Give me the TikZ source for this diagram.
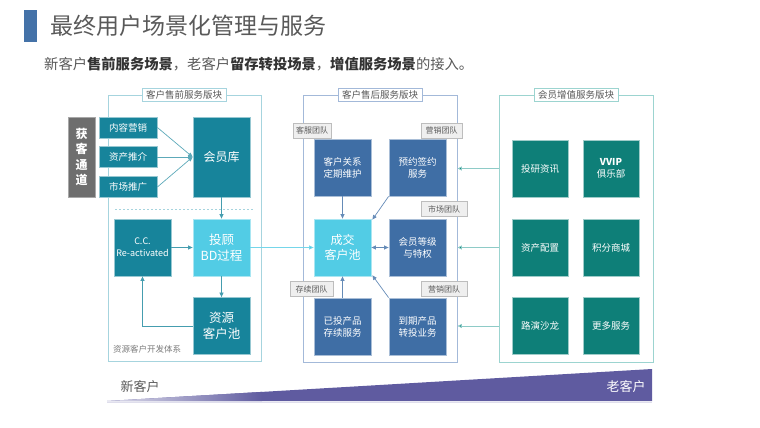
\documentclass[tikz,border=0pt]{standalone}
\usepackage{fontspec}
\setmainfont{Noto Sans CJK SC}
\usetikzlibrary{arrows.meta}
\definecolor{tealA}{HTML}{17849B}
\definecolor{cyanA}{HTML}{52CCE5}
\definecolor{blueA}{HTML}{3F6EA5}
\definecolor{greenA}{HTML}{0E7F78}
\definecolor{grayA}{HTML}{6E6E6E}
\definecolor{leftline}{HTML}{A6D4DE}
\definecolor{midline}{HTML}{A3B9D9}
\definecolor{rightline}{HTML}{9CD4D0}
\definecolor{purp}{HTML}{5F5BA0}
\definecolor{titlebar}{HTML}{4472A8}
\definecolor{txtgray}{HTML}{595959}
\definecolor{tagfill}{HTML}{EFEFEF}
\definecolor{tagline}{HTML}{BDBDBD}
\tikzset{
  boxbase/.style={inner sep=1pt, align=center, text=white, line width=0.8pt},
  tealbox/.style={boxbase, fill=tealA, draw=tealA!45!white},
  cyanbox/.style={boxbase, fill=cyanA, draw=cyanA!50!white},
  bluebox/.style={boxbase, fill=blueA, draw=blueA!45!white},
  greenbox/.style={boxbase, fill=greenA, draw=greenA!40!white},
  sq/.style={minimum width=57pt, minimum height=57pt},
  small/.style={font=\fontsize{9.5}{12}\selectfont},
  big/.style={font=\fontsize{12}{15}\selectfont},
  panel/.style={draw, line width=0.9pt, fill=none, inner sep=0pt},
  plabel/.style={fill=white, draw, line width=0.8pt, text=txtgray, font=\fontsize{9.5}{11}\selectfont, inner xsep=4pt, inner ysep=2pt},
  tag/.style={fill=tagfill, draw=tagline, line width=0.7pt, text=txtgray, font=\fontsize{8}{10}\selectfont, minimum height=15pt, inner xsep=3pt, inner ysep=1pt},
  tarr/.style={draw=#1, line width=0.7pt, -{Triangle[length=4.5pt,width=4pt]}},
}
\begin{document}
\begin{tikzpicture}[x=1pt,y=-1pt]
\useasboundingbox (0,0) rectangle (760,428);
% title
\fill[titlebar] (24,10) rectangle (37,42);
\node[anchor=west, text=txtgray, font=\fontsize{23}{27}\selectfont, inner sep=0pt] (title) at (50,26) {最终用户场景化管理与服务};
\node[anchor=west, text=txtgray, font=\fontsize{14.3}{17}\selectfont, inner sep=0pt] (sub) at (44,64)
 {新客户\textcolor{black!80}{\textbf{售前服务场景}}，老客户\textcolor{black!80}{\textbf{留存转投场景}}，\textcolor{black!80}{\textbf{增值服务场景}}的接入。};

% panels
\node[panel, draw=leftline, minimum width=153pt, minimum height=266pt] (lp) at (184.5,228) {};
\node[panel, draw=midline, minimum width=154pt, minimum height=267pt] (mp) at (380,228.5) {};
\node[panel, draw=rightline, minimum width=154pt, minimum height=267pt] (rp) at (576,228.5) {};
\node[plabel, draw=leftline] (lpl) at (184,95) {客户售前服务版块};
\node[plabel, draw=midline] (mpl) at (380,95) {客户售后服务版块};
\node[plabel, draw=rightline] (rpl) at (576,95) {会员增值服务版块};

% left panel
\node[boxbase, fill=grayA, draw=grayA!60!white, minimum width=27pt, minimum height=80pt, font=\fontsize{12}{15.5}\selectfont\bfseries] (hk) at (81.5,157) {获\\客\\通\\道};
\node[tealbox, small, minimum width=58pt, minimum height=21pt] (nr) at (128,127.5) {内容营销};
\node[tealbox, small, minimum width=58pt, minimum height=21pt] (zc) at (128,157) {资产推介};
\node[tealbox, small, minimum width=58pt, minimum height=21pt] (sc) at (128,187) {市场推广};
\node[tealbox, big, minimum width=57pt, minimum height=80pt] (hy) at (221.5,157) {会员库};
\draw[leftline, dashed, dash pattern=on 2pt off 2pt, line width=0.6pt] (115,209) -- (253,209);
\node[tealbox, sq, font=\fontsize{9}{12}\selectfont] (cc) at (142.5,247.5) {C.C.\\Re-activated};
\node[cyanbox, sq, font=\fontsize{12.5}{15.5}\selectfont] (tg) at (221.5,247.5) {投顾\\BD过程};
\node[tealbox, sq, font=\fontsize{12.5}{15.5}\selectfont] (zy) at (221.5,326) {资源\\客户池};
\node[anchor=west, text=txtgray!80, font=\fontsize{8.5}{10}\selectfont, inner sep=0pt] (zykf) at (113,349) {资源客户开发体系};

\draw[tarr=tealA!70!white] (nr.east) -- (hy.west);
\draw[tarr=tealA!70!white] (zc.east) -- (hy.west);
\draw[tarr=tealA!70!white] (sc.east) -- (hy.west);
\draw[tarr=tealA!80!white] (hy.south) -- (tg.north);
\draw[tarr=tealA!80!white] (cc.east) -- (tg.west);
\draw[tarr=tealA!80!white] (tg.south) -- (zy.north);
\draw[tarr=tealA!80!white] (zy.west) -| (cc.south);

% middle panel
\node[bluebox, sq, small] (kh) at (342.5,167.5) {客户关系\\定期维护};
\node[bluebox, sq, small] (yy) at (417.5,167.5) {预约签约\\服务};
\node[cyanbox, sq, font=\fontsize{12}{15}\selectfont] (cj) at (342.5,247.5) {成交\\客户池};
\node[bluebox, sq, small] (hd) at (417.5,247.5) {会员等级\\与特权};
\node[bluebox, sq, small] (yt) at (342.5,326.5) {已投产品\\存续服务};
\node[bluebox, sq, small] (dq) at (417.5,326.5) {到期产品\\转投业务};

\node[tag, minimum width=38pt] (kf) at (312,130.5) {客服团队};
\node[tag, minimum width=41pt] (yx1) at (441.5,130.5) {营销团队};
\node[tag, minimum width=46pt] (scd) at (444,209) {市场团队};
\node[tag, minimum width=43pt] (cx) at (311.5,289) {存续团队};
\node[tag, minimum width=46pt] (yx2) at (444,289) {营销团队};

\draw[tarr=blueA!80!white] (kh.south) -- (cj.north);
\draw[tarr=blueA!80!white] (yy.south west) -- ([xshift=1pt,yshift=-1pt]cj.north east);
\draw[tarr=blueA!80!white] (yt.north) -- (cj.south);
\draw[tarr=blueA!80!white] (dq.north west) -- ([xshift=1pt,yshift=1pt]cj.south east);
\draw[draw=blueA!80!white, line width=0.7pt, {Triangle[length=4.5pt,width=4pt]}-{Triangle[length=4.5pt,width=4pt]}] (cj.east) -- (hd.west);

\draw[draw=cyanA!80!white, line width=0.7pt, -{Triangle[length=4.5pt,width=4pt,fill=cyanA]}] (tg.east) -- (cj.west);

% right panel
\node[greenbox, minimum width=56pt, minimum height=57pt, small] (yz) at (540,168.5) {投研资讯};
\node[greenbox, minimum width=56pt, minimum height=57pt, small] (vv) at (611,168.5) {\textbf{VVIP}\\俱乐部};
\node[greenbox, minimum width=56pt, minimum height=57pt, small] (zp) at (540,247.5) {资产配置};
\node[greenbox, minimum width=56pt, minimum height=57pt, small] (jf) at (611,247.5) {积分商城};
\node[greenbox, minimum width=56pt, minimum height=57pt, small] (ly) at (540,326) {路演沙龙};
\node[greenbox, minimum width=56pt, minimum height=57pt, small] (gd) at (611,326) {更多服务};

\draw[draw=rightline!90!greenA, line width=0.8pt, -{Triangle[length=4.5pt,width=4pt,fill=greenA]}] (rp.west |- yz) -- (mp.east |- yz);
\draw[draw=rightline!90!greenA, line width=0.8pt, -{Triangle[length=4.5pt,width=4pt,fill=greenA]}] (rp.west |- zp) -- (mp.east |- zp);
\draw[draw=rightline!90!greenA, line width=0.8pt, -{Triangle[length=4.5pt,width=4pt,fill=greenA]}] (rp.west |- ly) -- (mp.east |- ly);

% bottom wedge
\fill[purp] (107,401) -- (652,369) -- (652,401) -- cycle;
\shade[left color=purp!20!white, right color=purp] (107,401) -- (262,391.9) -- (262,401) -- cycle;
\draw[purp!20!white, line width=1pt] (107,402) -- (652,402);
\node[text=txtgray, font=\fontsize{13}{15}\selectfont, inner sep=0pt] (xkh) at (140,387) {新客户};
\node[text=white, font=\fontsize{13}{15}\selectfont, inner sep=0pt] (lkh) at (626,387) {老客户};
\end{tikzpicture}
\end{document}
